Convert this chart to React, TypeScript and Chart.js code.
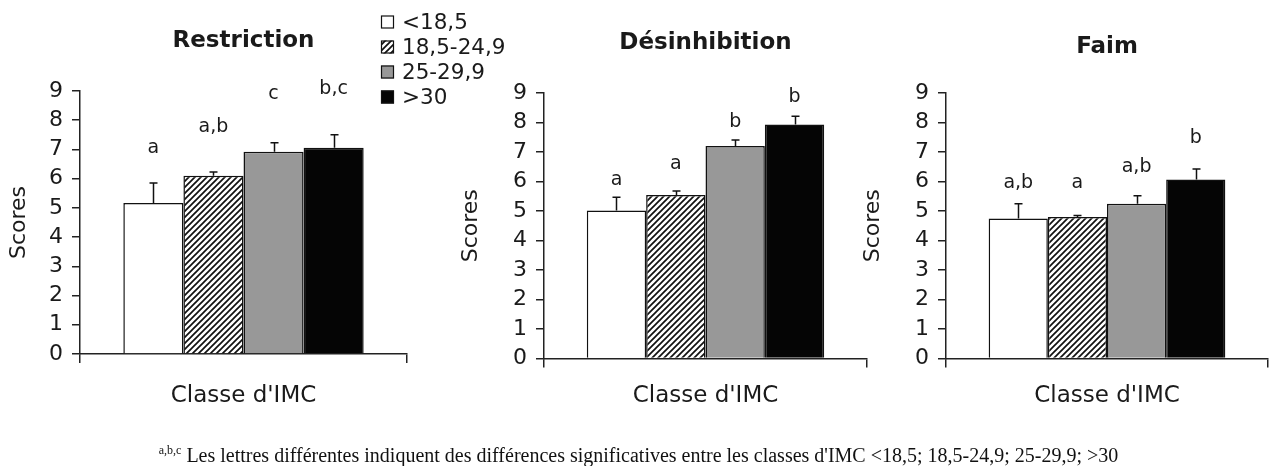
import React, { useEffect, useRef } from 'react';
import { Chart, registerables } from 'chart.js';

Chart.register(...registerables);

// ---------- data ----------
const categories = ["Classe d'IMC"];
const bmiClasses = ['<18,5', '18,5-24,9', '25-29,9', '>30'];

const restrictionMeans = [5.17, 6.1, 6.92, 7.06];
const restrictionErrors = [0.68, 0.13, 0.31, 0.44];
const restrictionLetters = ['a', 'a,b', 'c', 'b,c'];
const restrictionLetterLevels = [6.88, 7.6, 8.73, 8.9];

const desinhibitionMeans = [5.02, 5.54, 7.2, 7.93];
const desinhibitionErrors = [0.45, 0.14, 0.21, 0.28];
const desinhibitionLetters = ['a', 'a', 'b', 'b'];
const desinhibitionLetterLevels = [5.88, 6.42, 7.86, 8.7];

const faimMeans = [4.75, 4.8, 5.25, 6.07];
const faimErrors = [0.5, 0.05, 0.27, 0.35];
const faimLetters = ['a,b', 'a', 'a,b', 'b'];
const faimLetterLevels = [5.78, 5.78, 6.32, 7.3];

const yTicks = [0, 1, 2, 3, 4, 5, 6, 7, 8, 9];
const footnote =
  " Les lettres différentes indiquent des différences significatives entre les classes d'IMC <18,5; 18,5-24,9; 25-29,9; >30";

// ---------- styles ----------
const FONT = "'DejaVu Sans', 'Liberation Sans', Arial, sans-serif";
const INK = '#1a1a1a';
const H = 466;

function makeHatch(): CanvasPattern | string {
  const c = document.createElement('canvas');
  c.width = 6;
  c.height = 6;
  const g = c.getContext('2d');
  if (!g) return '#888';
  g.fillStyle = '#fff';
  g.fillRect(0, 0, 6, 6);
  g.strokeStyle = '#111';
  g.lineWidth = 1.7;
  g.beginPath();
  g.moveTo(-1, 7);
  g.lineTo(7, -1);
  g.moveTo(-1, 1);
  g.lineTo(1, -1);
  g.moveTo(5, 7);
  g.lineTo(7, 5);
  g.stroke();
  return g.createPattern(c, 'repeat') || '#888';
}

function fills(): (string | CanvasPattern)[] {
  return ['#ffffff', makeHatch(), '#989898', '#050505'];
}

type PanelProps = {
  title: string;
  means: number[];
  errors: number[];
  letters: string[];
  letterLevels: number[];
  left: number;
  width: number;
  padRight: number;
  titleCenter: number;
  areaTop: number;
  xTitlePadTop: number;
  yScaleWidth: number;
  legend?: boolean;
};

function Panel(p: PanelProps) {
  const ref = useRef<HTMLCanvasElement | null>(null);
  useEffect(() => {
    if (!ref.current) return;
    const colors = fills();
    const titleLH = 23 * 1.2;
    const titlePadTop = p.titleCenter - titleLH / 2;
    const titlePadBottom = p.areaTop - titlePadTop - titleLH;

    const errorBars = {
      id: 'errorBars',
      afterDatasetsDraw(chart: any) {
        const ctx = chart.ctx;
        const ys = chart.scales.y;
        ctx.save();
        ctx.strokeStyle = '#111';
        ctx.lineWidth = 1.5;
        chart.data.datasets.forEach((ds: any, i: number) => {
          const meta = chart.getDatasetMeta(i);
          meta.data.forEach((bar: any, j: number) => {
            const v = ds.data[j];
            const e = p.errors[i];
            const x = Math.round(bar.x) + 0.5;
            const y0 = ys.getPixelForValue(v);
            const y1 = ys.getPixelForValue(v + e);
            ctx.beginPath();
            ctx.moveTo(x, y0);
            ctx.lineTo(x, y1);
            ctx.moveTo(x - 4, y1);
            ctx.lineTo(x + 4, y1);
            ctx.stroke();
          });
        });
        ctx.restore();
      },
    };

    const lettersPlugin = {
      id: 'letters',
      afterDraw(chart: any) {
        const ctx = chart.ctx;
        const ys = chart.scales.y;
        ctx.save();
        ctx.fillStyle = INK;
        ctx.font = `19px ${FONT}`;
        ctx.textAlign = 'center';
        ctx.textBaseline = 'alphabetic';
        chart.data.datasets.forEach((_ds: any, i: number) => {
          const meta = chart.getDatasetMeta(i);
          const bar = meta.data[0];
          ctx.fillText(p.letters[i], bar.x, ys.getPixelForValue(p.letterLevels[i]));
        });
        ctx.restore();
      },
    };

    const legendPlugin = {
      id: 'customLegend',
      afterDraw(chart: any) {
        if (!p.legend) return;
        const ctx = chart.ctx;
        ctx.save();
        const rows = [22, 47, 72, 97];
        bmiClasses.forEach((lab, i) => {
          const y = rows[i];
          ctx.fillStyle = colors[i] as any;
          ctx.fillRect(381, y - 6.5, 13, 13);
          ctx.strokeStyle = '#111';
          ctx.lineWidth = 1.2;
          ctx.strokeRect(381.5, y - 6, 12, 12);
          ctx.fillStyle = INK;
          ctx.font = `21.5px ${FONT}`;
          ctx.textAlign = 'left';
          ctx.textBaseline = 'middle';
          ctx.fillText(lab, 402, y + 1);
        });
        ctx.restore();
      },
    };

    const chart = new Chart(ref.current, {
      type: 'bar',
      data: {
        labels: categories,
        datasets: bmiClasses.map((lab, i) => ({
          label: lab,
          data: [p.means[i]],
          backgroundColor: colors[i] as any,
          borderColor: '#111',
          borderWidth: 1.5,
          categoryPercentage: 0.735,
          barPercentage: 1.0,
        })),
      },
      options: {
        responsive: false,
        animation: false,
        devicePixelRatio: 1,
        layout: { padding: { left: 0, right: p.padRight, top: 0, bottom: 56.2 } },
        plugins: {
          legend: { display: false },
          tooltip: { enabled: false },
          title: {
            display: true,
            text: p.title,
            fullSize: false,
            color: INK,
            font: { family: FONT, size: 23, weight: 'bold', lineHeight: 1.2 },
            padding: { top: titlePadTop, bottom: titlePadBottom },
          },
        },
        scales: {
          x: {
            offset: true,
            grid: {
              display: true,
              offset: true,
              drawOnChartArea: false,
              drawTicks: true,
              tickLength: 9,
              color: '#222',
              lineWidth: 1.5,
            },
            border: { display: true, color: '#222', width: 1.5 },
            ticks: { display: false },
            title: {
              display: true,
              text: categories[0],
              color: INK,
              font: { family: FONT, size: 23, lineHeight: 1.2 },
              padding: { top: p.xTitlePadTop, bottom: 0 },
            },
          },
          y: {
            min: 0,
            max: 9,
            afterBuildTicks: (scale: any) => {
              scale.ticks = yTicks.map((v) => ({ value: v }));
            },
            afterFit: (scale: any) => {
              scale.width = p.yScaleWidth;
            },
            grid: {
              display: true,
              drawOnChartArea: false,
              drawTicks: true,
              tickLength: 8,
              color: '#222',
              lineWidth: 1.5,
            },
            border: { display: true, color: '#222', width: 1.5 },
            ticks: {
              autoSkip: false,
              color: INK,
              padding: 9,
              font: { family: FONT, size: 22 },
            },
            title: {
              display: true,
              text: 'Scores',
              color: INK,
              font: { family: FONT, size: 22, lineHeight: 1.2 },
              padding: { top: 5.8, bottom: 0 },
            },
          },
        },
      },
      plugins: [errorBars, lettersPlugin, legendPlugin],
    } as any);
    return () => chart.destroy();
  }, []);

  return (
    <div style={{ position: 'absolute', left: p.left, top: 0, width: p.width, height: H }}>
      <canvas ref={ref} width={p.width} height={H} style={{ display: 'block' }} />
    </div>
  );
}

export default function App() {
  return (
    <div
      style={{
        position: 'absolute',
        left: 0,
        top: 0,
        width: 1277,
        height: H,
        background: '#fff',
        overflow: 'hidden',
      }}
    >
      <Panel
        title="Restriction"
        means={restrictionMeans}
        errors={restrictionErrors}
        letters={restrictionLetters}
        letterLevels={restrictionLetterLevels}
        left={0}
        width={520}
        padRight={113}
        titleCenter={41}
        areaTop={91}
        xTitlePadTop={19.2}
        yScaleWidth={80}
        legend
      />
      <Panel
        title="Désinhibition"
        means={desinhibitionMeans}
        errors={desinhibitionErrors}
        letters={desinhibitionLetters}
        letterLevels={desinhibitionLetterLevels}
        left={452}
        width={420}
        padRight={5}
        titleCenter={43.5}
        areaTop={93}
        xTitlePadTop={14.7}
        yScaleWidth={92}
      />
      <Panel
        title="Faim"
        means={faimMeans}
        errors={faimErrors}
        letters={faimLetters}
        letterLevels={faimLetterLevels}
        left={854}
        width={423}
        padRight={9}
        titleCenter={47}
        areaTop={93}
        xTitlePadTop={14.7}
        yScaleWidth={92}
      />
      <div
        style={{
          position: 'absolute',
          left: 0,
          top: 438,
          width: 1277,
          textAlign: 'center',
          fontFamily: "'Liberation Serif', 'Times New Roman', serif",
          fontSize: 20,
          lineHeight: '24px',
          color: '#111',
          whiteSpace: 'nowrap',
        }}
      >
        <sup style={{ fontSize: 12 }}>a,b,c</sup>
        {footnote}
      </div>
    </div>
  );
}
